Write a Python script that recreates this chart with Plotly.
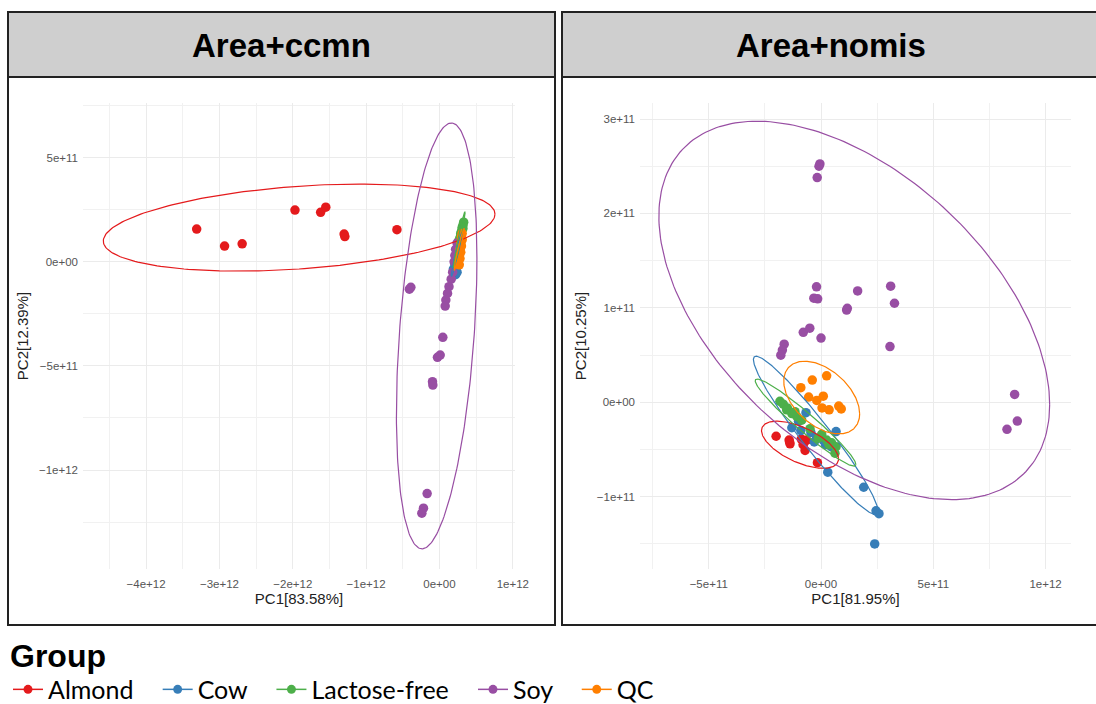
import numpy as np
import plotly.graph_objects as go

W, H = 1096, 704

groups = ["Almond", "Cow", "Lactose-free", "Soy", "QC"]
group_colors = ["#E41A1C", "#377EB8", "#4DAF4A", "#984EA3", "#FF7F00"]
panel_titles = ["Area+ccmn", "Area+nomis"]
x_titles = ["PC1[83.58%]", "PC1[81.95%]"]
y_titles = ["PC2[12.39%]", "PC2[10.25%]"]

# ---------------- Panel 1: Area+ccmn ----------------
ccmn_almond_x = [-3.31e12, -2.93e12, -2.69e12, -1.97e12, -1.62e12, -1.55e12, -1.30e12, -1.29e12, -0.58e12]
ccmn_almond_y = [1.57e11, 0.75e11, 0.86e11, 2.48e11, 2.37e11, 2.62e11, 1.33e11, 1.21e11, 1.54e11]
ccmn_cow_x = [0.20e12, 0.22e12, 0.19e12, 0.23e12, 0.21e12, 0.25e12, 0.24e12, 0.27e12, 0.26e12, 0.28e12, 0.22e12, 0.24e12]
ccmn_cow_y = [-0.55e11, -0.45e11, -0.35e11, -0.25e11, -0.15e11, -0.05e11, 0.10e11, 0.30e11, 0.60e11, 0.90e11, -0.62e11, -0.50e11]
ccmn_lf_x = [0.33e12, 0.32e12, 0.31e12, 0.31e12, 0.30e12, 0.29e12, 0.29e12, 0.28e12, 0.27e12, 0.26e12, 0.25e12, 0.32e12]
ccmn_lf_y = [1.90e11, 1.75e11, 1.65e11, 1.55e11, 1.45e11, 1.35e11, 1.25e11, 1.15e11, 1.05e11, 0.95e11, 0.90e11, 1.60e11]
ccmn_soy_x = [0.24e12, 0.22e12, 0.21e12, 0.20e12, 0.18e12, 0.16e12, 0.13e12, 0.11e12, 0.087e12, 0.078e12,
              -0.41e12, -0.39e12, 0.046e12, -0.027e12, 0.01e12, -0.095e12, -0.09e12, -0.168e12, -0.218e12, -0.24e12]
ccmn_soy_y = [0.9e11, 0.6e11, 0.3e11, 0.0, -0.5e11, -0.84e11, -1.2e11, -1.52e11, -1.84e11, -2.13e11,
              -1.32e11, -1.23e11, -3.63e11, -4.59e11, -4.48e11, -5.76e11, -5.92e11, -11.13e11, -11.83e11, -12.07e11]
ccmn_qc_x = [0.31e12, 0.30e12, 0.31e12, 0.29e12, 0.30e12, 0.28e12, 0.29e12, 0.27e12, 0.28e12, 0.26e12, 0.27e12, 0.30e12]
ccmn_qc_y = [1.35e11, 1.20e11, 1.05e11, 0.90e11, 0.75e11, 0.60e11, 0.45e11, 0.30e11, 0.15e11, 0.0, -0.15e11, 1.10e11]

# 95% ellipses: centre, half x-extent, half y-extent, cos(tilt phase)
ccmn_ell_cx = [-1.913e12, 0.235e12, 0.27e12, -0.038e12, 0.27e12]
ccmn_ell_cy = [1.64e11, 0.35e11, 1.05e11, -3.56e11, 0.60e11]
ccmn_ell_a = [2.67e12, 0.075e12, 0.08e12, 0.549e12, 0.07e12]
ccmn_ell_b = [2.09e11, 1.05e11, 1.35e11, 10.22e11, 1.00e11]
ccmn_ell_cos = [0.309, 0.96, 0.97, 0.365, 0.96]

ccmn_xticks = [-4e12, -3e12, -2e12, -1e12, 0, 1e12]
ccmn_xlabels = ["\u22124e+12", "\u22123e+12", "\u22122e+12", "\u22121e+12", "0e+00", "1e+12"]
ccmn_yticks = [5e11, 0, -5e11, -1e12]
ccmn_ylabels = ["5e+11", "0e+00", "\u22125e+11", "\u22121e+12"]

# ---------------- Panel 2: Area+nomis ----------------
nomis_almond_x = [-2.0e11, -1.42e11, -1.38e11, -0.88e11, -0.76e11, -0.64e11, -0.80e11, -0.71e11, -0.16e11, -1.40e11]
nomis_almond_y = [-0.36e11, -0.40e11, -0.44e11, -0.39e11, -0.43e11, -0.40e11, -0.45e11, -0.51e11, -0.64e11, -0.42e11]
nomis_cow_x = [-0.67e11, -1.30e11, -1.00e11, -0.45e11, -0.30e11, -0.20e11, 0.10e11, 0.45e11, 0.67e11, 0.30e11,
               1.90e11, 2.45e11, 2.58e11, 2.39e11, -0.90e11, 0.20e11]
nomis_cow_y = [-0.11e11, -0.27e11, -0.20e11, -0.32e11, -0.42e11, -0.38e11, -0.40e11, -0.47e11, -0.31e11, -0.74e11,
               -0.90e11, -1.15e11, -1.18e11, -1.50e11, -0.30e11, -0.45e11]
nomis_lf_x = [-1.68e11, -1.50e11, -1.30e11, -1.08e11, -0.86e11, -0.49e11, 0.03e11, 0.25e11, 0.47e11, 0.67e11,
              0.62e11, -1.53e11, -1.16e11, -1.83e11, -0.12e11, 0.35e11]
nomis_lf_y = [-0.02e11, -0.06e11, -0.12e11, -0.15e11, -0.19e11, -0.28e11, -0.34e11, -0.40e11, -0.43e11, -0.47e11,
              -0.54e11, -0.08e11, -0.10e11, 0.01e11, -0.38e11, -0.45e11]
nomis_soy_x = [-0.05e11, -0.09e11, -0.17e11, -0.20e11, -0.32e11, -0.15e11, 1.63e11, 3.10e11, 3.27e11, 1.17e11,
               1.14e11, -0.79e11, -0.50e11, 0.0, -1.64e11, -1.72e11, -1.79e11, 3.07e11, 8.62e11, 8.74e11, 8.28e11]
nomis_soy_y = [2.525e11, 2.50e11, 2.38e11, 1.223e11, 1.103e11, 1.096e11, 1.179e11, 1.23e11, 1.049e11, 0.995e11,
               0.977e11, 0.741e11, 0.785e11, 0.68e11, 0.615e11, 0.553e11, 0.499e11, 0.59e11, 0.083e11, -0.199e11, -0.286e11]
nomis_qc_x = [0.25e11, -0.39e11, -0.90e11, -0.55e11, -0.19e11, 0.10e11, 0.045e11, 0.36e11, 0.79e11, 0.90e11]
nomis_qc_y = [0.28e11, 0.235e11, 0.155e11, 0.055e11, 0.02e11, 0.065e11, -0.06e11, -0.08e11, -0.04e11, -0.07e11]

nomis_ell_cx = [-0.935e11, -0.235e11, -0.69e11, 1.48e11, 0.03e11]
nomis_ell_cy = [-0.45e11, -0.351e11, -0.215e11, 0.973e11, 0.05e11]
nomis_ell_a = [1.715e11, 2.775e11, 2.24e11, 8.70e11, 1.69e11]
nomis_ell_b = [0.25e11, 0.839e11, 0.461e11, 2.004e11, 0.385e11]
nomis_ell_cos = [-0.60, -0.957, -0.961, -0.498, -0.45]

nomis_xticks = [-5e11, 0, 5e11, 1e12]
nomis_xlabels = ["\u22125e+11", "0e+00", "5e+11", "1e+12"]
nomis_yticks = [3e11, 2e11, 1e11, 0, -1e11]
nomis_ylabels = ["3e+11", "2e+11", "1e+11", "0e+00", "\u22121e+11"]

panels = [
    dict(xs=[ccmn_almond_x, ccmn_cow_x, ccmn_lf_x, ccmn_soy_x, ccmn_qc_x],
         ys=[ccmn_almond_y, ccmn_cow_y, ccmn_lf_y, ccmn_soy_y, ccmn_qc_y],
         ell=(ccmn_ell_cx, ccmn_ell_cy, ccmn_ell_a, ccmn_ell_b, ccmn_ell_cos)),
    dict(xs=[nomis_almond_x, nomis_cow_x, nomis_lf_x, nomis_soy_x, nomis_qc_x],
         ys=[nomis_almond_y, nomis_cow_y, nomis_lf_y, nomis_soy_y, nomis_qc_y],
         ell=(nomis_ell_cx, nomis_ell_cy, nomis_ell_a, nomis_ell_b, nomis_ell_cos)),
]

fig = go.Figure()
t = np.linspace(0, 2 * np.pi, 241)
for p_i, p in enumerate(panels):
    xa = "x" if p_i == 0 else "x2"
    ya = "y" if p_i == 0 else "y2"
    for g_i, g in enumerate(groups):
        fig.add_trace(go.Scatter(x=p["xs"][g_i], y=p["ys"][g_i], mode="markers", xaxis=xa, yaxis=ya,
                                 marker=dict(color=group_colors[g_i], size=9.5, line=dict(width=0)),
                                 name=g, showlegend=False, hoverinfo="skip"))
    cx, cy, a, b, c = p["ell"]
    for g_i, g in enumerate(groups):
        phi = np.arccos(c[g_i])
        ex = cx[g_i] + a[g_i] * np.cos(t)
        ey = cy[g_i] + b[g_i] * np.cos(t - phi)
        fig.add_trace(go.Scatter(x=ex, y=ey, mode="lines", xaxis=xa, yaxis=ya,
                                 line=dict(color=group_colors[g_i], width=1.2),
                                 showlegend=False, hoverinfo="skip"))

# legend entries (trailing no-break spaces widen the gap between entries)
for g_i, g in enumerate(groups):
    fig.add_trace(go.Scatter(x=[None], y=[None], mode="lines+markers",
                             name=g + ("\u00a0\u00a0\u00a0" if g_i < len(groups) - 1 else ""),
                             line=dict(color=group_colors[g_i], width=1.5),
                             marker=dict(color=group_colors[g_i], size=9)))

def px_x(v):
    return v / W

def px_y(v):
    return 1 - v / H

tick_font = dict(family="Liberation Sans, Arial, sans-serif", size=11.5, color="#555555")
title_font = dict(family="Liberation Sans, Arial, sans-serif", size=15, color="#222222")
grid = dict(showgrid=True, gridcolor="#EBEBEB", gridwidth=1.3, zeroline=False, showline=False, ticks="",
            automargin=False)

ydom = [px_y(569), px_y(103)]
fig.update_layout(
    xaxis=dict(domain=[px_x(83), px_x(515)], range=[-4.86e12, 1.03e12], tickmode="array",
               tickvals=ccmn_xticks, ticktext=ccmn_xlabels, tickfont=tick_font,
               title=dict(text=x_titles[0], font=title_font, standoff=4),
               minor=dict(showgrid=True, gridcolor="#F1F1F1", gridwidth=0.8, tickmode="linear", tick0=0, dtick=5e11),
               anchor="y", ticklabelstandoff=6, **grid),
    yaxis=dict(domain=ydom, range=[-1.475e12, 7.62e11], tickmode="array",
               tickvals=ccmn_yticks, ticktext=ccmn_ylabels, tickfont=tick_font,
               title=dict(text=y_titles[0], font=title_font, standoff=6),
               minor=dict(showgrid=True, gridcolor="#F1F1F1", gridwidth=0.8, tickmode="linear", tick0=0, dtick=2.5e11),
               anchor="x", ticklabelstandoff=4, **grid),
    xaxis2=dict(domain=[px_x(640), px_x(1071)], range=[-8.06e11, 1.113e12], tickmode="array",
                tickvals=nomis_xticks, ticktext=nomis_xlabels, tickfont=tick_font,
                title=dict(text=x_titles[1], font=title_font, standoff=4),
                minor=dict(showgrid=True, gridcolor="#F1F1F1", gridwidth=0.8, tickmode="linear", tick0=0, dtick=2.5e11),
                anchor="y2", ticklabelstandoff=6, **grid),
    yaxis2=dict(domain=ydom, range=[-1.766e11, 3.17e11], tickmode="array",
                tickvals=nomis_yticks, ticktext=nomis_ylabels, tickfont=tick_font,
                title=dict(text=y_titles[1], font=title_font, standoff=6),
                minor=dict(showgrid=True, gridcolor="#F1F1F1", gridwidth=0.8, tickmode="linear", tick0=0, dtick=5e10),
                anchor="x2", ticklabelstandoff=4, **grid),
    width=W, height=H, margin=dict(l=0, r=0, t=0, b=0, autoexpand=False),
    paper_bgcolor="white", plot_bgcolor="white",
    legend=dict(orientation="h", x=px_x(8), xanchor="left", y=-9 / H, yanchor="bottom",
                title=dict(text="<b>Group</b>", side="top",
                           font=dict(family="Liberation Sans, Arial, sans-serif", size=32, color="black")),
                font=dict(family="Lato, Liberation Sans, Arial, sans-serif", size=25, color="black"),
                itemwidth=30, bgcolor="rgba(0,0,0,0)"),
)

# facet frames and strips
frames = [(8, 555), (562, 1100)]
for i, (fx0, fx1) in enumerate(frames):
    fig.add_shape(type="rect", xref="paper", yref="paper", x0=px_x(fx0), x1=px_x(fx1), y0=px_y(77), y1=px_y(12),
                  fillcolor="#CFCFCF", line=dict(color="#222222", width=2), layer="below")
    fig.add_shape(type="rect", xref="paper", yref="paper", x0=px_x(fx0), x1=px_x(fx1), y0=px_y(625), y1=px_y(12),
                  fillcolor="rgba(0,0,0,0)", line=dict(color="#222222", width=2), layer="above")
    fig.add_annotation(xref="paper", yref="paper", x=px_x((fx0 + min(fx1, 1100)) / 2), y=px_y(45),
                       text="<b>%s</b>" % panel_titles[i], showarrow=False, xanchor="center", yanchor="middle",
                       font=dict(family="Liberation Sans, Arial, sans-serif", size=33, color="black"))

fig.write_html("out.html", config={"displayModeBar": False},
               post_script="document.body.style.margin='0';document.body.style.overflow='hidden';")
